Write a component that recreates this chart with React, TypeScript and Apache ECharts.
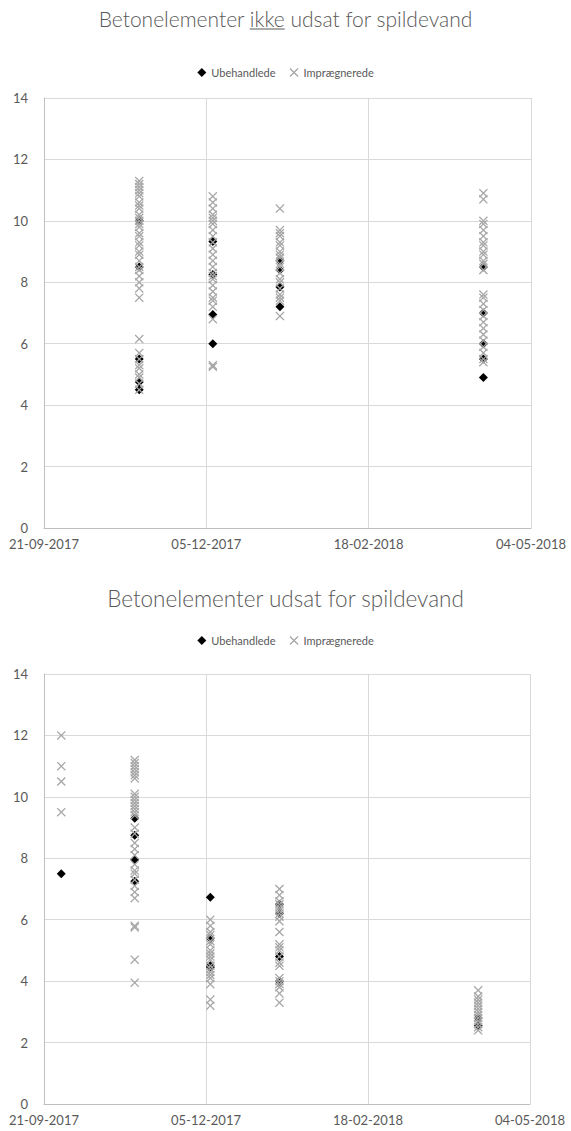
import React, { useEffect, useRef } from "react";
import * as echarts from "echarts";

// ---------- data ----------
const BASE_DATE = "21-09-2017";
const xTickLabels = ["21-09-2017", "05-12-2017", "18-02-2018", "04-05-2018"];
const yTicks = [0, 2, 4, 6, 8, 10, 12, 14];
const seriesNames = ["Ubehandlede", "Imprægnerede"];

const title1 = ["Betonelementer ", "ikke", " udsat for spildevand"];
const title2 = "Betonelementer udsat for spildevand";

// Chart 1: ikke udsat for spildevand
const top_dates = ["04-11-2017", "08-12-2017", "08-01-2018", "12-04-2018"];
const top_ubehandlede = [
  [10.0, 8.5, 5.5, 4.75, 4.5],
  [9.33, 8.25, 6.95, 6.0],
  [8.7, 8.4, 7.85, 7.2],
  [8.5, 7.0, 6.0, 5.5, 4.9],
];
const top_impraegnerede = [
  [11.3, 11.2, 11.1, 11.0, 10.9, 10.8, 10.6, 10.5, 10.4, 10.2, 10.1, 10.0, 9.9, 9.8, 9.6, 9.5, 9.3, 9.2, 9.0, 8.9, 8.7, 8.5, 8.4, 8.2, 8.0, 7.8, 7.5, 6.15, 5.7, 5.5, 5.3, 5.2, 5.0, 4.9, 4.7, 4.5],
  [10.8, 10.6, 10.4, 10.2, 10.1, 10.0, 9.9, 9.7, 9.5, 9.3, 9.1, 8.9, 8.7, 8.5, 8.3, 8.2, 8.1, 7.9, 7.7, 7.5, 7.4, 7.2, 6.8, 5.3, 5.25],
  [10.4, 9.7, 9.6, 9.5, 9.3, 9.2, 9.0, 8.9, 8.8, 8.6, 8.5, 8.3, 8.1, 8.0, 7.8, 7.6, 7.5, 7.4, 6.9],
  [10.9, 10.7, 10.0, 9.9, 9.7, 9.5, 9.3, 9.2, 9.0, 8.9, 8.7, 8.6, 8.4, 7.6, 7.5, 7.3, 7.1, 6.9, 6.7, 6.5, 6.3, 6.1, 5.9, 5.7, 5.5, 5.4],
];

// Chart 2: udsat for spildevand
const bottom_dates = ["29-09-2017", "02-11-2017", "07-12-2017", "08-01-2018", "10-04-2018"];
const bottom_ubehandlede = [
  [7.5],
  [9.3, 8.75, 7.95, 7.25],
  [6.73, 5.4, 4.5, 4.45],
  [6.5, 6.2, 4.8, 4.0],
  [2.8, 2.55],
];
const bottom_impraegnerede = [
  [12.0, 11.0, 10.5, 9.5],
  [11.2, 11.1, 11.0, 10.9, 10.8, 10.7, 10.6, 10.1, 10.0, 9.9, 9.8, 9.7, 9.6, 9.5, 9.4, 9.0, 8.8, 8.5, 8.3, 8.1, 7.8, 7.6, 7.5, 7.3, 7.1, 6.9, 6.7, 5.8, 5.75, 4.7, 3.95],
  [6.0, 5.8, 5.6, 5.5, 5.3, 5.2, 5.0, 4.9, 4.8, 4.7, 4.5, 4.4, 4.3, 4.2, 4.1, 3.9, 3.4, 3.2],
  [7.0, 6.8, 6.6, 6.5, 6.4, 6.3, 6.2, 6.1, 5.95, 5.6, 5.2, 5.1, 5.0, 4.8, 4.6, 4.5, 4.1, 4.0, 3.9, 3.8, 3.6, 3.3],
  [3.7, 3.5, 3.4, 3.3, 3.2, 3.1, 3.0, 2.9, 2.8, 2.7, 2.6, 2.5, 2.4],
];

// ---------- helpers ----------
const parseDate = (s: string) => {
  const [d, m, y] = s.split("-").map(Number);
  return Date.UTC(y, m - 1, d);
};
const DAY = 86400000;
const dayOffset = (s: string) => Math.round((parseDate(s) - parseDate(BASE_DATE)) / DAY);
const fmtDay = (v: number) => {
  const t = new Date(parseDate(BASE_DATE) + v * DAY);
  const p = (n: number) => String(n).padStart(2, "0");
  return `${p(t.getUTCDate())}-${p(t.getUTCMonth() + 1)}-${t.getUTCFullYear()}`;
};
const toPoints = (dates: string[], cols: number[][]) =>
  cols.flatMap((col, i) => col.map((v) => [dayOffset(dates[i]), v]));

const FONT = "Lato, 'Open Sans', sans-serif";
const TEXT = "#595959";
const GRID = "#d9d9d9";
const AXIS = "#bfbfbf";
const GREY = "#a6a6a6";
const X_SYMBOL = "path://M1,0L5,4L9,0L10,1L6,5L10,9L9,10L5,6L1,10L0,9L4,5L0,1Z";

const W = 571;
const H = 1131;
const TITLE1_SIZE = 21;
const TITLE2_SIZE = 22.5;

export default function App() {
  const ref = useRef<HTMLDivElement>(null);
  useEffect(() => {
    document.body.style.margin = "0";
    if (!ref.current) return;
    const chart = echarts.init(ref.current, undefined, { renderer: "svg" });

    const xMax = dayOffset(xTickLabels[xTickLabels.length - 1]);
    const xInterval = dayOffset(xTickLabels[1]);

    // measure title pieces for underline
    const cv = document.createElement("canvas").getContext("2d")!;
    cv.font = `300 ${TITLE1_SIZE}px Lato`;
    const fullW = cv.measureText(title1.join("")).width;
    const preW = cv.measureText(title1[0]).width;
    const ikkeW = cv.measureText(title1[1]).width;
    const cx = W / 2;
    const ulX1 = cx - fullW / 2 + preW;
    const ulX2 = ulX1 + ikkeW;
    const t1y = 18;
    const t2y = 598;

    const grids = [
      { left: 44, top: 98, width: 487, height: 430 },
      { left: 44, top: 674, width: 486, height: 430 },
    ];

    const mkX = (gi: number) => ({
      gridIndex: gi,
      type: "value",
      min: 0,
      max: xMax,
      interval: xInterval,
      axisLine: { show: true, lineStyle: { color: AXIS, width: 1 } },
      axisTick: { show: false },
      splitLine: { show: true, lineStyle: { color: GRID, width: 1 } },
      axisLabel: {
        color: TEXT,
        fontFamily: FONT,
        fontSize: 13,
        margin: 9,
        showMinLabel: true,
        showMaxLabel: true,
        hideOverlap: false,
        formatter: (v: number) => fmtDay(v),
      },
    });
    const mkY = (gi: number) => ({
      gridIndex: gi,
      type: "value",
      min: yTicks[0],
      max: yTicks[yTicks.length - 1],
      interval: yTicks[1] - yTicks[0],
      axisLine: { show: true, lineStyle: { color: AXIS, width: 1 } },
      axisTick: { show: false },
      splitLine: { show: true, lineStyle: { color: GRID, width: 1 } },
      axisLabel: { color: TEXT, fontFamily: FONT, fontSize: 13, margin: 16 },
    });

    const legendBase = {
      left: "center",
      orient: "horizontal",
      itemGap: 14,
      itemWidth: 9,
      itemHeight: 9,
      textStyle: { color: TEXT, fontFamily: FONT, fontSize: 11 },
      data: [
        { name: seriesNames[0], icon: "diamond", itemStyle: { color: "#000" } },
        { name: seriesNames[1], icon: X_SYMBOL, itemStyle: { color: GREY } },
      ],
      selectedMode: false,
    };

    const ub = (gi: number, data: number[][]) => ({
      name: seriesNames[0],
      type: "scatter",
      xAxisIndex: gi,
      yAxisIndex: gi,
      symbol: "diamond",
      symbolSize: 9,
      itemStyle: { color: "#000", opacity: 1 },
      data,
    });
    const im = (gi: number, data: number[][]) => ({
      name: seriesNames[1],
      type: "scatter",
      xAxisIndex: gi,
      yAxisIndex: gi,
      symbol: X_SYMBOL,
      symbolSize: 9,
      itemStyle: { color: GREY, opacity: 1 },
      data,
    });

    chart.setOption({
      animation: false,
      backgroundColor: "#fff",
      grid: grids,
      xAxis: [mkX(0), mkX(1)],
      yAxis: [mkY(0), mkY(1)],
      legend: [
        { ...legendBase, top: 62 },
        { ...legendBase, top: 630 },
      ],
      graphic: [
        {
          type: "text",
          x: cx,
          y: t1y,
          style: {
            text: title1.join(""),
            fill: TEXT,
            font: `300 ${TITLE1_SIZE}px ${FONT}`,
            align: "center",
            verticalAlign: "middle",
          },
        },
        {
          type: "line",
          shape: { x1: ulX1, y1: t1y + 11, x2: ulX2, y2: t1y + 11 },
          style: { stroke: TEXT, lineWidth: 1 },
        },
        {
          type: "text",
          x: cx,
          y: t2y,
          style: {
            text: title2,
            fill: TEXT,
            font: `300 ${TITLE2_SIZE}px ${FONT}`,
            align: "center",
            verticalAlign: "middle",
          },
        },
      ],
      series: [
        ub(0, toPoints(top_dates, top_ubehandlede)),
        im(0, toPoints(top_dates, top_impraegnerede)),
        ub(1, toPoints(bottom_dates, bottom_ubehandlede)),
        im(1, toPoints(bottom_dates, bottom_impraegnerede)),
      ],
    });
    return () => chart.dispose();
  }, []);
  return <div ref={ref} style={{ width: W, height: H }} />;
}
